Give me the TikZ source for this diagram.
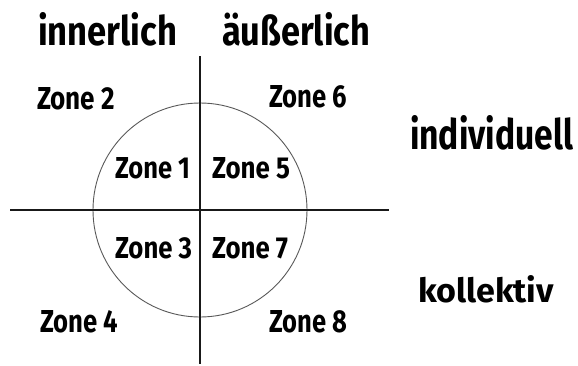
\documentclass[tikz,border=0pt]{standalone}
\usepackage{fontspec}
\setmainfont{Fira Sans}
\usepackage{graphicx}
\newcommand{\fitlabel}[3]{\resizebox{#1pt}{#2pt}{\bfseries #3}}
\tikzset{
  lbl/.style={anchor=base west, inner sep=0pt, outer sep=0pt},
  axis/.style={line width=2pt, draw=black!90},
  ring/.style={line width=0.9pt, draw=black!65}
}
\begin{document}
\begin{tikzpicture}[x=1pt,y=-1pt]
\useasboundingbox (0,0) rectangle (578,365);
\coordinate (c) at (200,210);
\coordinate (top) at (200,56);
\coordinate (bot) at (200,364);
\coordinate (lft) at (10,210);
\coordinate (rgt) at (389,210);
\draw[ring] (c) circle[radius=107];
\draw[axis] (top) -- (bot);
\draw[axis] (lft) -- (rgt);
\node[lbl] (inner) at (38,45) {\fitlabel{139}{33}{innerlich}};
\node[lbl] (outer) at (222,45) {\fitlabel{148}{33}{äußerlich}};
\node[lbl] (indiv) at (410,149) {\fitlabel{163}{34}{individuell}};
\node[lbl] (koll) at (418,302) {\fitlabel{136}{27}{kollektiv}};
\node[lbl] (z2) at (37,109) {\fitlabel{78}{22}{Zone 2}};
\node[lbl] (z6) at (269,107) {\fitlabel{78}{22}{Zone 6}};
\node[lbl] (z1) at (115,178) {\fitlabel{75}{21}{Zone 1}};
\node[lbl] (z5) at (212,178) {\fitlabel{78}{21}{Zone 5}};
\node[lbl] (z3) at (115,258) {\fitlabel{77}{21}{Zone 3}};
\node[lbl] (z7) at (212,258) {\fitlabel{76}{21}{Zone 7}};
\node[lbl] (z4) at (40,332) {\fitlabel{78}{22}{Zone 4}};
\node[lbl] (z8) at (269,332) {\fitlabel{78}{22}{Zone 8}};
\end{tikzpicture}
\end{document}
